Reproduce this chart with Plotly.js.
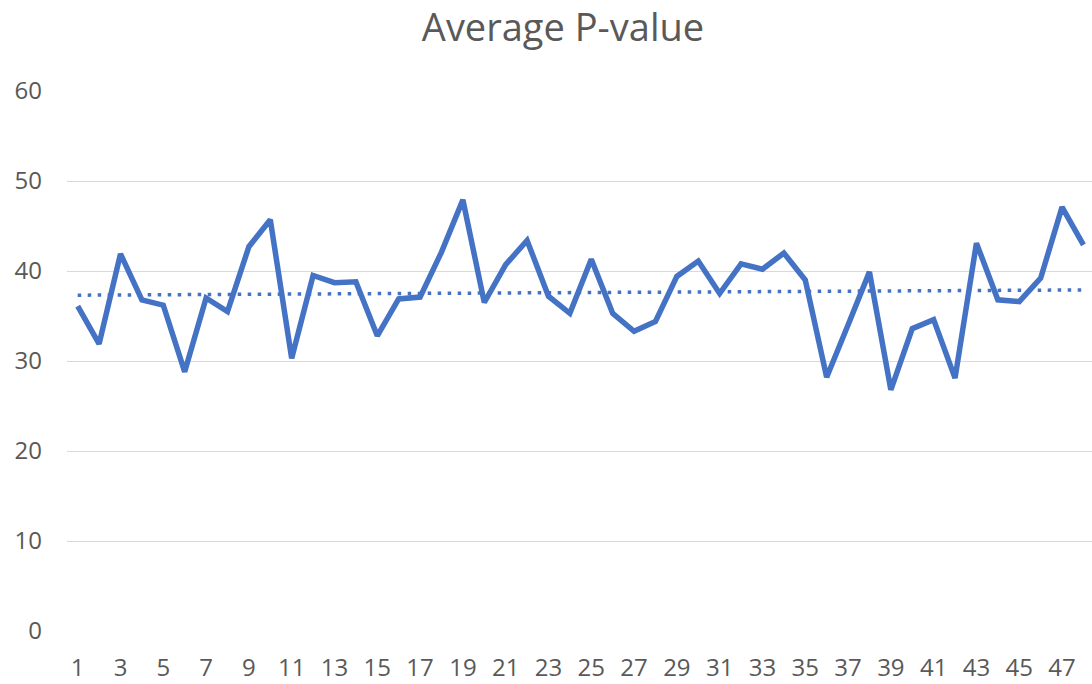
<!DOCTYPE html>
<html>
<head>
<meta charset="utf-8">
<script src="https://cdn.plot.ly/plotly-3.0.1.min.js"></script>
<style>html,body{margin:0;padding:0;background:#fff;}#chart{width:1092px;height:684px;}</style>
</head>
<body>
<div id="chart"></div>
<script>
var categories = [];
for (var i = 1; i <= 48; i++) categories.push(i);

var avgPValue = [36.1, 31.9, 41.9, 36.8, 36.2, 28.8, 37.0, 35.5, 42.7, 45.7,
                 30.3, 39.5, 38.7, 38.8, 32.8, 36.9, 37.1, 42.1, 47.9, 36.5,
                 40.7, 43.4, 37.2, 35.3, 41.3, 35.3, 33.3, 34.4, 39.4, 41.1,
                 37.5, 40.8, 40.2, 42.0, 39.0, 28.2, 34.0, 39.9, 26.8, 33.6,
                 34.6, 28.1, 43.1, 36.8, 36.6, 39.2, 47.1, 42.9];

var titleText = "Average P-value";

// Linear trendline (least squares), as Excel's trendline
var n = categories.length, sx = 0, sy = 0, sxy = 0, sxx = 0;
for (var k = 0; k < n; k++) {
  sx += categories[k]; sy += avgPValue[k];
  sxy += categories[k] * avgPValue[k]; sxx += categories[k] * categories[k];
}
var slope = (n * sxy - sx * sy) / (n * sxx - sx * sx);
var intercept = (sy - slope * sx) / n;
var trend = categories.map(function (x) { return intercept + slope * x; });

var traces = [
  {
    x: categories, y: avgPValue, type: 'scatter', mode: 'lines',
    line: {color: '#4472C4', width: 5.5, shape: 'linear'},
    hoverinfo: 'x+y', showlegend: false
  },
  {
    x: categories, y: trend, type: 'scatter', mode: 'lines',
    line: {color: '#4472C4', width: 3.5, dash: '3.5px,6.5px'},
    hoverinfo: 'skip', showlegend: false
  }
];

var layout = {
  width: 1092, height: 684,
  margin: {l: 67, r: 0, t: 91, b: 53},
  paper_bgcolor: '#ffffff', plot_bgcolor: '#ffffff',
  font: {family: '"Open Sans", "Noto Sans", sans-serif', color: '#595959', size: 24},
  title: {
    text: titleText,
    font: {family: '"Open Sans", "Noto Sans", sans-serif', size: 38, color: '#595959'},
    x: 563 / 1092, xref: 'container', xanchor: 'center',
    y: 1 - 28 / 684, yref: 'container', yanchor: 'middle'
  },
  xaxis: {
    range: [0.5, 48.4], tickmode: 'linear', tick0: 1, dtick: 2,
    showgrid: false, zeroline: false, showline: false, ticks: '',
    ticklabelstandoff: 20,
    tickfont: {size: 24, color: '#595959'}
  },
  yaxis: {
    range: [0, 60], tickmode: 'linear', tick0: 0, dtick: 10,
    showgrid: true, gridcolor: '#d9d9d9', gridwidth: 1,
    zeroline: false, showline: false, ticks: '',
    ticklabelstandoff: 24,
    tickfont: {size: 24, color: '#595959'}
  }
};

Plotly.newPlot('chart', traces, layout, {displayModeBar: false, staticPlot: true});
</script>
</body>
</html>
